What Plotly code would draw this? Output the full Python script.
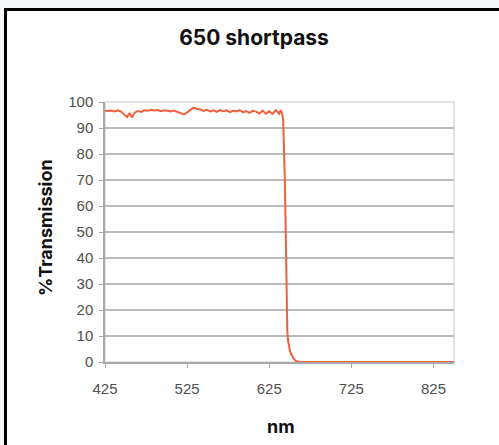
import plotly.graph_objects as go

# Transmission curve of the 650 nm shortpass filter
wavelength_nm = [
    425, 429, 433, 437, 441, 445, 449, 452, 455, 458, 461, 465, 469, 473, 477,
    481, 485, 489, 493, 497, 501, 505, 509, 513, 517, 521, 525, 529, 533, 537,
    541, 545, 549, 553, 557, 561, 565, 569, 573, 577, 581, 585, 589, 593, 597,
    601, 605, 609, 613, 617, 621, 625, 629, 633, 637, 639, 641,
    642, 643, 644, 645, 646, 647, 648, 650, 652, 655, 658, 662, 700, 760, 850,
]
transmission_pct = [
    96.6, 96.5, 96.7, 96.4, 96.8, 96.2, 95.0, 94.2, 95.8, 94.0, 95.9, 96.5, 96.2, 96.8, 96.6,
    97.0, 96.7, 96.9, 96.5, 96.8, 96.6, 96.4, 96.7, 96.3, 95.6, 95.2, 96.0, 97.0, 97.8, 97.3,
    97.1, 96.6, 97.0, 96.4, 96.8, 96.2, 96.9, 96.5, 96.8, 96.1, 96.6, 96.4, 96.9, 96.0, 96.5,
    95.8, 96.6, 96.3, 95.6, 96.7, 95.5, 96.4, 95.4, 96.8, 95.5, 96.9, 95.0,
    93.0, 85.0, 70.0, 52.0, 30.0, 12.0, 8.0, 4.6, 2.8, 1.2, 0.3, 0.1, 0.0, 0.0, 0.0,
]
x_ticks = [425, 525, 625, 725, 825]
y_ticks = [0, 10, 20, 30, 40, 50, 60, 70, 80, 90, 100]

W, H = 499, 445
ML, MR, MT, MB = 105, 45, 102, 83
PW, PH = W - ML - MR, H - MT - MB


def px_x(px):
    return (px - ML) / PW


def px_y(py):
    return (H - MB - py) / PH


TICK_FONT = dict(family="Liberation Sans, Arial, sans-serif", size=15, color="#505050")
BOLD_FONT = dict(family="Inter, Roboto, sans-serif", size=18, color="#111111", weight=700)

fig = go.Figure()
fig.add_trace(go.Scatter(
    x=wavelength_nm,
    y=transmission_pct,
    mode='lines',
    line=dict(color='#f0603c', width=2),
    showlegend=False,
    hoverinfo='skip'
))

fig.update_layout(
    width=W, height=H,
    margin=dict(l=ML, r=MR, t=MT, b=MB),
    paper_bgcolor='#f5f6f8',
    plot_bgcolor='rgba(0,0,0,0)',
    title=dict(text='650 shortpass', x=254 / W, xref='container', xanchor='center',
               y=1 - 38 / H, yref='container', yanchor='middle',
               font=dict(family="Inter, Roboto, sans-serif", size=21, color='#111111', weight=700)),
    shapes=[
        # white card with black frame
        dict(type='rect', xref='paper', yref='paper', layer='below',
             x0=px_x(5.5), x1=px_x(530), y0=px_y(9.5), y1=px_y(480),
             line=dict(color='#000000', width=3), fillcolor='#ffffff'),
        # light plot border
        dict(type='rect', xref='paper', yref='paper', layer='below',
             x0=0, x1=1, y0=0, y1=1, line=dict(color='#dcdcdc', width=1.5)),
    ],
    annotations=[
        dict(text='%Transmission', xref='paper', yref='paper', x=px_x(45), y=px_y(228),
             textangle=-90, showarrow=False, font=BOLD_FONT, xanchor='center', yanchor='middle'),
        dict(text='nm', xref='paper', yref='paper', x=px_x(281), y=px_y(426),
             showarrow=False, font=BOLD_FONT, xanchor='center', yanchor='middle'),
    ],
)

fig.update_xaxes(
    range=[425, 850], tickvals=x_ticks, ticktext=[str(v) for v in x_ticks],
    showgrid=False, zeroline=False, showline=True, linecolor='#a8a8a8', linewidth=1.5,
    ticks='outside', ticklen=4, tickcolor='#a8a8a8', tickfont=TICK_FONT, ticklabelstandoff=8,
)
fig.update_yaxes(
    range=[0, 100], tickvals=y_ticks, ticktext=[str(v) for v in y_ticks],
    showgrid=True, gridcolor='#bababa', gridwidth=1.5, zeroline=False,
    showline=True, linecolor='#a8a8a8', linewidth=1.5,
    ticks='outside', ticklen=4, tickcolor='#a8a8a8', tickfont=TICK_FONT, ticklabelstandoff=3,
)

# drop the page's default body margin so the figure sits at the top-left corner
fig.write_html("out.html", config={'displayModeBar': False},
               post_script="document.body.style.margin='0';")
